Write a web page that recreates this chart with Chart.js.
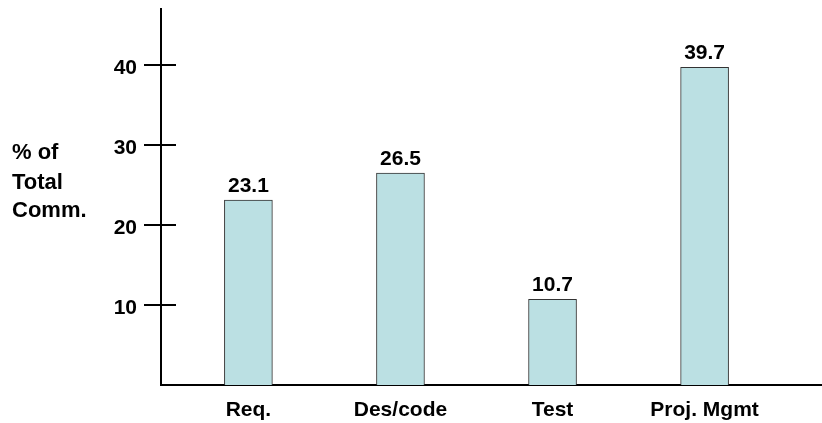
<!DOCTYPE html>
<html>
<head>
<meta charset="utf-8">
<script src="https://cdn.jsdelivr.net/npm/chart.js@4/dist/chart.umd.min.js"></script>
<style>
  html, body { margin: 0; padding: 0; background: #ffffff; }
  #wrap { width: 822px; height: 423px; }
</style>
</head>
<body>
<div id="wrap"><canvas id="chart" width="822" height="423"></canvas></div>
<script>
// Share of total communication by activity
const categories = ['Req.', 'Des/code', 'Test', 'Proj. Mgmt'];
const shares = [23.1, 26.5, 10.7, 39.7];
const yTickValues = [10, 20, 30, 40];
const yTitleLines = ['% of', 'Total', 'Comm.'];

const FONT = "'Liberation Sans', Arial, Helvetica, sans-serif";

// Short tick marks that cross the vertical axis line
const crossTicks = {
  id: 'crossTicks',
  afterDraw(chart) {
    const y = chart.scales.y;
    const x0 = chart.chartArea.left;
    const ctx = chart.ctx;
    ctx.save();
    ctx.strokeStyle = '#000';
    ctx.lineWidth = 2;
    y.ticks.forEach(t => {
      const py = Math.round(y.getPixelForValue(t.value));
      ctx.beginPath();
      ctx.moveTo(x0 - 17, py);
      ctx.lineTo(x0 + 15, py);
      ctx.stroke();
    });
    ctx.restore();
  }
};

// Value printed above each bar
const valueLabels = {
  id: 'valueLabels',
  afterDatasetsDraw(chart) {
    const ctx = chart.ctx;
    const meta = chart.getDatasetMeta(0);
    ctx.save();
    ctx.fillStyle = '#000';
    ctx.font = 'bold 21px ' + FONT;
    ctx.textAlign = 'center';
    ctx.textBaseline = 'alphabetic';
    meta.data.forEach((bar, i) => {
      ctx.fillText(shares[i].toFixed(1), bar.x, bar.y - 8);
    });
    ctx.restore();
  }
};

// Horizontal, left-aligned axis caption
const yCaption = {
  id: 'yCaption',
  afterDraw(chart) {
    const ctx = chart.ctx;
    ctx.save();
    ctx.fillStyle = '#000';
    ctx.font = 'bold 22px ' + FONT;
    ctx.textAlign = 'left';
    ctx.textBaseline = 'alphabetic';
    const baselines = [159, 189, 217];
    yTitleLines.forEach((line, i) => ctx.fillText(line, 12, baselines[i]));
    ctx.restore();
  }
};

new Chart(document.getElementById('chart'), {
  type: 'bar',
  data: {
    datasets: [{
      data: shares.map((v, i) => ({ x: i, y: v })),
      backgroundColor: '#BBE0E3',
      borderColor: '#333333',
      borderWidth: 1,
      barThickness: 48
    }]
  },
  options: {
    responsive: false,
    animation: false,
    events: [],
    layout: { padding: { top: 9, left: 0, right: 0, bottom: 0 } },
    plugins: {
      legend: { display: false },
      tooltip: { enabled: false },
      title: { display: false }
    },
    scales: {
      x: {
        type: 'linear',
        offset: false,
        min: -0.5747,
        max: 3.772,
        grid: { display: false, drawTicks: false },
        border: { display: true, color: '#000', width: 2 },
        afterFit(scale) {
          scale.height = 38;
          scale.paddingLeft = 0;
          scale.paddingRight = 0;
        },
        afterBuildTicks(scale) { scale.ticks = categories.map((c, i) => ({ value: i })); },
        ticks: {
          autoSkip: false,
          maxRotation: 0,
          padding: 13,
          color: '#000',
          font: { family: FONT, size: 21, weight: 'bold' },
          callback: (v) => categories[v] ?? ''
        }
      },
      y: {
        min: 0,
        max: 47,
        grid: { display: false, drawTicks: false },
        border: { display: true, color: '#000', width: 2 },
        afterFit(scale) {
          scale.width = 161;
          scale.paddingTop = 0;
          scale.paddingBottom = 0;
        },
        afterBuildTicks(scale) { scale.ticks = yTickValues.map(v => ({ value: v })); },
        ticks: {
          padding: 24,
          labelOffset: 3,
          color: '#000',
          font: { family: FONT, size: 21, weight: 'bold' }
        }
      }
    }
  },
  plugins: [crossTicks, valueLabels, yCaption]
});
</script>
</body>
</html>
